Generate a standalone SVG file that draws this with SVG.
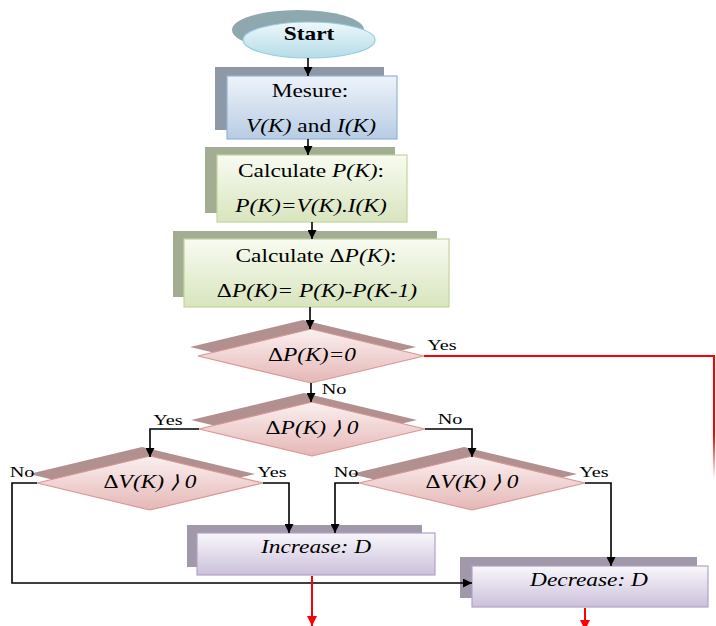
<svg xmlns="http://www.w3.org/2000/svg" width="716" height="626" viewBox="0 0 716 626">
<defs>
<linearGradient id="gStart" x1="0" y1="0" x2="0" y2="1"><stop offset="0" stop-color="#eef8fb"/><stop offset="1" stop-color="#b5dce7"/></linearGradient>
<linearGradient id="gBlue" x1="0" y1="0" x2="0" y2="1"><stop offset="0" stop-color="#eef3fa"/><stop offset="1" stop-color="#b8cce4"/></linearGradient>
<linearGradient id="gGreen" x1="0" y1="0" x2="0" y2="1"><stop offset="0" stop-color="#f8fbf1"/><stop offset="1" stop-color="#d8e5be"/></linearGradient>
<linearGradient id="gPink" x1="0" y1="0" x2="0" y2="1"><stop offset="0" stop-color="#fbf0f0"/><stop offset="1" stop-color="#e5b7b6"/></linearGradient>
<linearGradient id="gPurple" x1="0" y1="0" x2="0" y2="1"><stop offset="0" stop-color="#f9f7fb"/><stop offset="1" stop-color="#cbc0da"/></linearGradient>
<linearGradient id="gRedFade" gradientUnits="userSpaceOnUse" x1="0" y1="356" x2="0" y2="478"><stop offset="0" stop-color="#ff0000" stop-opacity="1"/><stop offset="0.65" stop-color="#ff0000" stop-opacity="1"/><stop offset="1" stop-color="#ff0000" stop-opacity="0"/></linearGradient>
<marker id="ah" viewBox="0 0 10 10" refX="10" refY="5" markerWidth="9" markerHeight="9" markerUnits="userSpaceOnUse" orient="auto"><path d="M0,0 L10,5 L0,10 z" fill="#000"/></marker>
<marker id="ahr" viewBox="0 0 10 10" refX="10" refY="5" markerWidth="10" markerHeight="10" markerUnits="userSpaceOnUse" orient="auto"><path d="M0,0 L10,5 L0,10 z" fill="#ff0000"/></marker>
<style>
.t{font-family:"Liberation Serif","Times New Roman",serif;font-size:18px;fill:#000;text-anchor:middle}
.i{font-style:italic}
.b{font-weight:bold}
.lbl{font-family:"Liberation Serif","Times New Roman",serif;font-size:15px;fill:#000;text-anchor:middle}
.ln{fill:none;stroke:#000;stroke-width:1.6}
.red{fill:none;stroke:#ff0000;stroke-width:2}
.dsh{fill:#b29090}
.dfr{fill:url(#gPink);stroke:#d99694;stroke-width:1.2}
.psh{fill:#a199a9}
.pfr{fill:url(#gPurple);stroke:#b3a2c7;stroke-width:1.2}
</style>
</defs>

<g id="start">
<ellipse cx="298" cy="30" rx="66" ry="20" fill="#8fa7ae"/>
<ellipse cx="309" cy="40" rx="66" ry="18" fill="url(#gStart)" stroke="#93cddd" stroke-width="1.2"/>
<text class="t b" transform="translate(309,40) scale(1.3,1)">Start</text>
</g>

<g id="mesure">
<rect x="215" y="67" width="169" height="63" fill="#8e99a6"/>
<rect x="227" y="76" width="170" height="63" fill="url(#gBlue)" stroke="#95b3d7" stroke-width="1.2"/>
<text class="t" transform="translate(310,97) scale(1.3,1)">Mesure:</text>
<text class="t" transform="translate(311,132) scale(1.3,1)"><tspan class="i">V(K)</tspan> and <tspan class="i">I(K)</tspan></text>
</g>

<g id="calcP">
<rect x="205" y="147" width="190" height="66" fill="#a3ad93"/>
<rect x="217" y="155" width="190" height="67" fill="url(#gGreen)" stroke="#c3d69b" stroke-width="1.2"/>
<text class="t" transform="translate(311,177) scale(1.3,1)">Calculate <tspan class="i">P(K)</tspan>:</text>
<text class="t i" transform="translate(311,212) scale(1.3,1)">P(K)=V(K).I(K)</text>
</g>

<g id="calcDeltaP">
<rect x="173" y="231" width="264" height="66" fill="#a3ad93"/>
<rect x="184" y="239" width="265" height="68" fill="url(#gGreen)" stroke="#c3d69b" stroke-width="1.2"/>
<text class="t" transform="translate(316,262) scale(1.3,1)">Calculate Δ<tspan class="i">P(K)</tspan>:</text>
<text class="t" transform="translate(317,297) scale(1.3,1)">Δ<tspan class="i">P(K)= P(K)-P(K-1)</tspan></text>
</g>

<g id="dec1">
<polygon class="dsh" points="190,347 303,320 416,347 303,374"/>
<polygon class="dfr" points="198,356 311,329 424,356 311,383"/>
<text class="t" transform="translate(312,361) scale(1.3,1)">Δ<tspan class="i">P(K)=0</tspan></text>
</g>

<g id="dec2">
<polygon class="dsh" points="191,420 304,393 417,420 304,447"/>
<polygon class="dfr" points="199,429 312,402 425,429 312,456"/>
<text class="t" transform="translate(312,434) scale(1.3,1)">Δ<tspan class="i">P(K) ⟩ 0</tspan></text>
</g>

<g id="dec3">
<polygon class="dsh" points="29,474 142,447 255,474 142,501"/>
<polygon class="dfr" points="37,483 150,456 263,483 150,510"/>
<text class="t" transform="translate(150,488) scale(1.3,1)">Δ<tspan class="i">V(K) ⟩ 0</tspan></text>
</g>

<g id="dec4">
<polygon class="dsh" points="351,474 464,447 577,474 464,501"/>
<polygon class="dfr" points="359,483 472,456 585,483 472,510"/>
<text class="t" transform="translate(472,488) scale(1.3,1)">Δ<tspan class="i">V(K) ⟩ 0</tspan></text>
</g>

<g id="increase">
<rect class="psh" x="187" y="525" width="235" height="42"/>
<rect class="pfr" x="197" y="533" width="238" height="42"/>
<text class="t i" transform="translate(316,553) scale(1.3,1)">Increase: D</text>
</g>

<g id="decrease">
<rect class="psh" x="460" y="557" width="237" height="41"/>
<rect class="pfr" x="472" y="566" width="236" height="41"/>
<text class="t i" transform="translate(589,586) scale(1.3,1)">Decrease: D</text>
</g>

<g id="connectors">
<line class="ln" x1="308" y1="58" x2="308" y2="76" marker-end="url(#ah)"/>
<line class="ln" x1="308" y1="139" x2="308" y2="155" marker-end="url(#ah)"/>
<line class="ln" x1="312" y1="222" x2="312" y2="239" marker-end="url(#ah)"/>
<line class="ln" x1="310" y1="307" x2="310" y2="329" marker-end="url(#ah)"/>
<line class="ln" x1="311" y1="383" x2="311" y2="402" marker-end="url(#ah)"/>
<polyline class="ln" points="199,429 150,429 150,457" marker-end="url(#ah)"/>
<polyline class="ln" points="425,429 472,429 472,457" marker-end="url(#ah)"/>
<polyline class="ln" points="37,483 12,483 12,583 472,583" marker-end="url(#ah)"/>
<polyline class="ln" points="263,483 289,483 289,533" marker-end="url(#ah)"/>
<polyline class="ln" points="359,483 335,483 335,533" marker-end="url(#ah)"/>
<polyline class="ln" points="585,483 611,483 611,566" marker-end="url(#ah)"/>
<line class="red" x1="424" y1="356" x2="715" y2="356"/>
<line x1="714" y1="355" x2="714" y2="478" stroke="url(#gRedFade)" stroke-width="2"/>
<line class="red" x1="312" y1="576" x2="312" y2="626" marker-end="url(#ahr)"/>
<line class="red" x1="585" y1="608" x2="585" y2="630" marker-end="url(#ahr)"/>
<text class="lbl" transform="translate(442,350) scale(1.35,1)">Yes</text>
<text class="lbl" transform="translate(334,394) scale(1.35,1)">No</text>
<text class="lbl" transform="translate(168,425) scale(1.35,1)">Yes</text>
<text class="lbl" transform="translate(450,424) scale(1.35,1)">No</text>
<text class="lbl" transform="translate(22,477) scale(1.35,1)">No</text>
<text class="lbl" transform="translate(272,477) scale(1.35,1)">Yes</text>
<text class="lbl" transform="translate(346,477) scale(1.35,1)">No</text>
<text class="lbl" transform="translate(594,477) scale(1.35,1)">Yes</text>
</g>
</svg>
